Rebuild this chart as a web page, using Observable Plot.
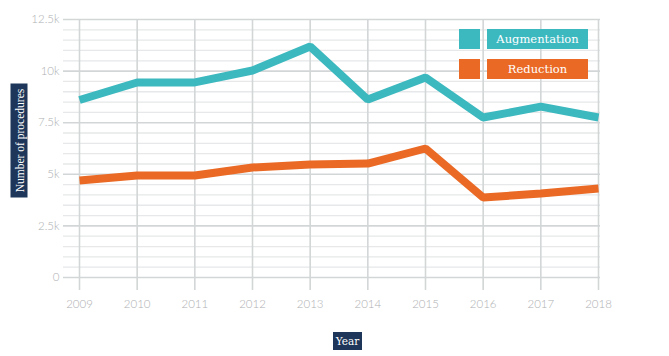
<!DOCTYPE html>
<html><head><meta charset="utf-8">
<script src="https://cdn.jsdelivr.net/npm/d3@7"></script>
<script src="https://cdn.jsdelivr.net/npm/@observablehq/plot@0.6"></script>
<style>
body{margin:0;background:#fff;}
#wrap{position:relative;width:669px;height:356px;overflow:hidden;}
.box{position:absolute;background:#1d3659;color:#fff;font-family:"DejaVu Serif","Liberation Serif",serif;font-size:10.5px;display:flex;align-items:center;justify-content:center;white-space:nowrap;}
.sw{position:absolute;}
</style></head><body><div id="wrap"></div>
<script>
const years=[2009,2010,2011,2012,2013,2014,2015,2016,2017,2018];
const augmentation=[8600,9450,9450,10030,11190,8620,9690,7750,8280,7750];
const reduction=[4700,4940,4940,5330,5475,5520,6250,3875,4070,4310];
const seriesNames=["Augmentation","Reduction"];
const seriesColors=["#3cb8bf","#ea6a25"];
const yTicks=[0,2500,5000,7500,10000,12500];
const yTickLabels=["0","2.5k","5k","7.5k","10k","12.5k"];
const minorStep=500;
const xLabel="Year";
const yLabel="Number of procedures";

const rows=[];
years.forEach((y,i)=>{
  rows.push({year:y,value:augmentation[i],series:seriesNames[0]});
  rows.push({year:y,value:reduction[i],series:seriesNames[1]});
});
const minor=d3.range(0,yTicks[yTicks.length-1]+1,minorStep).filter(v=>!yTicks.includes(v));

const chart=Plot.plot({
  width:669,height:356,
  marginLeft:79,marginRight:71,marginTop:19,marginBottom:79,
  style:{fontFamily:"Lato, sans-serif",background:"transparent"},
  x:{domain:[years[0],years[years.length-1]],axis:null},
  y:{domain:[0,yTicks[yTicks.length-1]],axis:null},
  color:{domain:seriesNames,range:seriesColors},
  marks:[
    Plot.ruleY(minor,{stroke:"#e6e8e9",strokeWidth:1.3,insetLeft:-16,insetRight:-2}),
    Plot.ruleY(yTicks,{stroke:"#d3d6d7",strokeWidth:1.6,insetLeft:-16,insetRight:-2}),
    Plot.ruleX(years,{stroke:"#d3d6d7",strokeWidth:1.6,insetBottom:-13}),
    Plot.text(yTicks,{x:years[0],y:d=>d,text:(d,i)=>yTickLabels[i],textAnchor:"end",dx:-20,fill:"#aeb0b2",fontSize:11.5,fontWeight:300}),
    Plot.text(years,{x:d=>d,y:0,text:d=>String(d),dy:27,fill:"#aeb0b2",fontSize:11.5,fontWeight:300}),
    Plot.line(rows,{x:"year",y:"value",z:"series",stroke:"series",strokeWidth:8,strokeLinejoin:"miter",strokeLinecap:"butt"})
  ]
});
const wrap=document.getElementById("wrap");
wrap.appendChild(chart);

function addBox(text,left,top,w,h,bg,rot){
  const d=document.createElement("div");
  d.className="box";d.textContent=text;
  d.style.left=left+"px";d.style.top=top+"px";d.style.width=w+"px";d.style.height=h+"px";
  if(bg)d.style.background=bg;
  if(rot){d.style.transform="rotate(-90deg)";}
  wrap.appendChild(d);return d;
}
// legend
seriesNames.forEach((n,i)=>{
  const top=29+i*30;
  const sw=document.createElement("div");
  sw.className="sw";sw.style.left="459px";sw.style.top=top+"px";sw.style.width="21px";sw.style.height="20px";sw.style.background=seriesColors[i];
  wrap.appendChild(sw);
  const b=addBox(n,487,top,101,20,seriesColors[i]);
  b.style.fontSize="11.5px";
});
// axis labels
addBox(xLabel,333,332,29,18);
const yl=addBox(yLabel,18.5-57,140-8.5,114,17,null,true);
yl.style.fontFamily='"Liberation Serif",serif';
yl.style.fontSize="11.5px";
</script></body></html>
